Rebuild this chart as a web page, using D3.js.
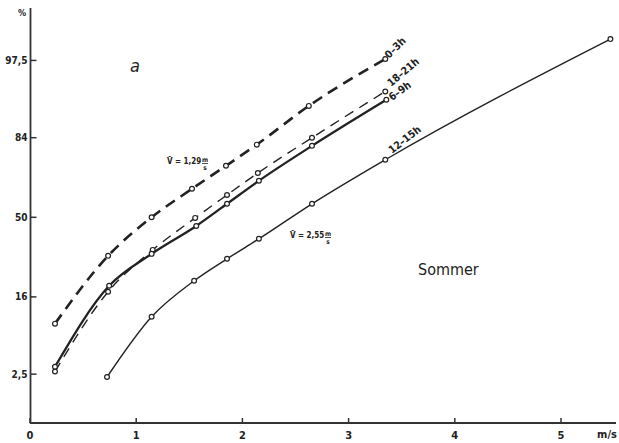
<!DOCTYPE html>
<html>
<head>
<meta charset="utf-8">
<script src="https://cdn.jsdelivr.net/npm/d3@7"></script>
<style>
  body { margin: 0; background: #fff; }
  text { font-family: "DejaVu Sans Condensed", "DejaVu Sans", sans-serif; fill: #222; }
</style>
</head>
<body>
<svg id="chart" width="619" height="443"></svg>
<script>
const W = 619, H = 443;

// wind speed (m/s) at each plotted point, and cumulative frequency (%)
const hours = ["0-3h", "18-21h", "6-9h", "12-15h"];
const speed03 = [0.24, 0.74, 1.15, 1.53, 1.85, 2.14, 2.63, 3.35];
const pct03   = [9.2, 31.5, 50, 63.9, 74, 81.8, 91.8, 97.6];
const speed1821 = [0.24, 0.74, 1.16, 1.56, 1.86, 2.15, 2.66, 3.35];
const pct1821   = [2.7, 17.6, 34.2, 49.7, 61, 71, 84, 94.2];
const speed69 = [0.24, 0.75, 1.15, 1.57, 1.86, 2.16, 2.66, 3.36];
const pct69   = [3.1, 19.6, 32.4, 45.7, 56.7, 67.6, 81.4, 92.9];
const speed1215 = [0.73, 1.15, 1.55, 1.86, 2.16, 2.66, 3.35, 5.47];
const pct1215   = [2.3, 10.7, 21.4, 30.2, 39.4, 56.7, 76.4, 98.7];

const xTicks = [0, 1, 2, 3, 4, 5];
const yTicks = [2.5, 16, 50, 84, 97.5];
const yTickLabels = ["2,5", "16", "50", "84", "97,5"];

// inverse of the normal distribution (Acklam)
function probit(p) {
  const a = [-39.6968302866538, 220.946098424521, -275.928510446969, 138.357751867269, -30.6647980661472, 2.50662827745924];
  const b = [-54.4760987982241, 161.585836858041, -155.698979859887, 66.8013118877197, -13.2806815528857];
  const c = [-0.00778489400243029, -0.322396458041136, -2.40075827716184, -2.54973253934373, 4.37466414146497, 2.93816398269878];
  const d = [0.00778469570904146, 0.32246712907004, 2.445134137143, 3.75440866190742];
  const pl = 0.02425;
  let q, r;
  if (p < pl) {
    q = Math.sqrt(-2 * Math.log(p));
    return (((((c[0]*q+c[1])*q+c[2])*q+c[3])*q+c[4])*q+c[5]) / ((((d[0]*q+d[1])*q+d[2])*q+d[3])*q+1);
  } else if (p <= 1 - pl) {
    q = p - 0.5; r = q * q;
    return (((((a[0]*r+a[1])*r+a[2])*r+a[3])*r+a[4])*r+a[5])*q / (((((b[0]*r+b[1])*r+b[2])*r+b[3])*r+b[4])*r+1);
  }
  q = Math.sqrt(-2 * Math.log(1 - p));
  return -(((((c[0]*q+c[1])*q+c[2])*q+c[3])*q+c[4])*q+c[5]) / ((((d[0]*q+d[1])*q+d[2])*q+d[3])*q+1);
}

const x = d3.scaleLinear().domain([0, 5.5]).range([29.5, 613.6]);
const zScale = d3.scaleLinear().domain([-2.57, 2.59]).range([423, 10]);
const y = p => zScale(probit(p / 100));

const svg = d3.select("#chart");

// axes
const xAxis = d3.axisBottom(x).tickValues(xTicks).tickSize(-5).tickPadding(8).tickFormat(d3.format("d"));
const gx = svg.append("g").attr("transform", "translate(0,423)").call(xAxis);
gx.select(".domain").remove();
gx.selectAll(".tick line").attr("stroke", "#333").attr("stroke-width", 1.5);
gx.selectAll(".tick text").attr("font-size", 11).attr("font-weight", "bold").attr("fill", "#222");

const gy = svg.append("g").attr("transform", "translate(30.5,0)");
yTicks.forEach((t, i) => {
  const g = gy.append("g").attr("transform", `translate(0,${y(t)})`);
  g.append("line").attr("x1", 0).attr("x2", 6).attr("stroke", "#333").attr("stroke-width", 1.5);
  g.append("text").attr("x", -3).attr("dy", "0.35em").attr("text-anchor", "end")
    .attr("font-size", 10).attr("font-weight", "bold").text(yTickLabels[i]);
});

svg.append("line").attr("x1", 30.5).attr("x2", 30.5).attr("y1", 8).attr("y2", 423.5)
  .attr("stroke", "#333").attr("stroke-width", 1.8);
svg.append("line").attr("x1", 30).attr("x2", 616).attr("y1", 423).attr("y2", 423)
  .attr("stroke", "#333").attr("stroke-width", 1.8);

svg.append("text").attr("x", 22).attr("y", 16).attr("text-anchor", "middle")
  .attr("font-size", 9).attr("font-weight", "bold").text("%");
svg.append("text").attr("x", 607).attr("y", 438).attr("text-anchor", "middle")
  .attr("font-size", 11).attr("font-weight", "bold").text("m/s");

// curves
const series = [
  { name: hours[0], xs: speed03, ps: pct03, width: 2.6, dash: "11,7" },
  { name: hours[1], xs: speed1821, ps: pct1821, width: 1.4, dash: "10,7" },
  { name: hours[2], xs: speed69, ps: pct69, width: 2.3, dash: null },
  { name: hours[3], xs: speed1215, ps: pct1215, width: 1.4, dash: null }
];

const line = d3.line().x(d => x(d[0])).y(d => y(d[1])).curve(d3.curveMonotoneX);

series.forEach(s => {
  const pts = s.xs.map((v, i) => [v, s.ps[i]]);
  svg.append("path").datum(pts).attr("d", line)
    .attr("fill", "none").attr("stroke", "#222").attr("stroke-width", s.width)
    .attr("stroke-dasharray", s.dash);
  svg.append("g").selectAll("circle").data(pts).enter().append("circle")
    .attr("cx", d => x(d[0])).attr("cy", d => y(d[1])).attr("r", 2.4)
    .attr("fill", "#fff").attr("stroke", "#222").attr("stroke-width", 1.2);
});

// curve labels
const labelPos = [
  { text: "0–3h", x: 389, y: 59, a: -45 },
  { text: "18–21h", x: 391, y: 87, a: -40 },
  { text: "6–9h", x: 392, y: 101, a: -36 },
  { text: "12–15h", x: 392, y: 154, a: -38 }
];
labelPos.forEach(l => {
  svg.append("text").attr("transform", `translate(${l.x},${l.y}) rotate(${l.a})`)
    .attr("font-size", 10.5).attr("font-weight", "bold").text(l.text);
});

// annotations
svg.append("text").attr("x", 130).attr("y", 72).attr("font-size", 18)
  .attr("font-style", "italic").attr("font-family", "DejaVu Serif").text("a");

function vbar(px, py, val) {
  const g = svg.append("g").attr("transform", `translate(${px},${py})`);
  g.append("text").attr("font-size", 8).attr("font-weight", "bold").text("V\u0304 = " + val);
  const w = 8 * 0.5 * (4 + val.length) + 3;
  g.append("text").attr("x", w).attr("y", -2).attr("font-size", 6.5).attr("font-weight", "bold").text("m");
  g.append("line").attr("x1", w).attr("x2", w + 6).attr("y1", -0.5).attr("y2", -0.5)
    .attr("stroke", "#222").attr("stroke-width", 0.8);
  g.append("text").attr("x", w + 1.2).attr("y", 5.5).attr("font-size", 6.5).attr("font-weight", "bold").text("s");
}
vbar(167, 164, "1,29");
vbar(290, 238, "2,55");

svg.append("text").attr("x", 418).attr("y", 275).attr("font-size", 16)
  .attr("font-family", "DejaVu Sans").text("Sommer");
</script>
</body>
</html>
